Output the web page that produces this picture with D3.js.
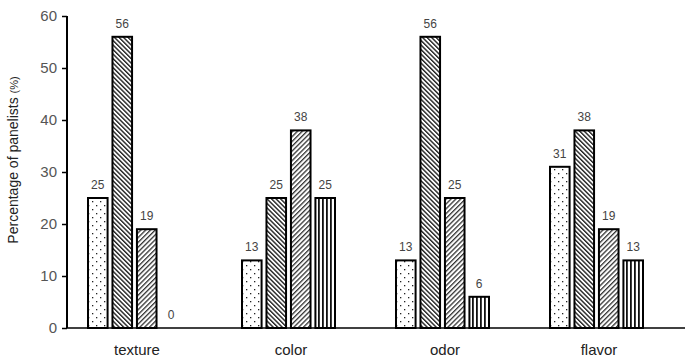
<!DOCTYPE html>
<html>
<head>
<meta charset="utf-8">
<script src="https://cdn.jsdelivr.net/npm/d3@7"></script>
<style>
  body { margin: 0; background: #fff; }
  svg { display: block; }
  .tick text { font-family: "Liberation Sans Narrow", "Liberation Sans", Arial, sans-serif; }
</style>
</head>
<body>
<div id="chart"></div>
<script>
var categories = ["texture", "color", "odor", "flavor"];
var seriesNames = ["s1", "s2", "s3", "s4"];
// one array per series, values per category
var s1 = [25, 13, 13, 31];
var s2 = [56, 25, 56, 38];
var s3 = [19, 38, 25, 19];
var s4 = [0, 25, 6, 13];
var yTicks = [0, 10, 20, 30, 40, 50, 60];

var allSeries = [s1, s2, s3, s4];
var patternIds = ["dots", "back", "fwd", "vert"];

var width = 694, height = 363;
var margin = {top: 16, right: 9, bottom: 35, left: 67};

var svg = d3.select("#chart").append("svg")
    .attr("width", width)
    .attr("height", height);

// patterns
var defs = svg.append("defs");

var pd = defs.append("pattern").attr("id", "dots")
    .attr("patternUnits", "userSpaceOnUse")
    .attr("width", 8).attr("height", 8);
pd.append("rect").attr("width", 8).attr("height", 8).attr("fill", "#fff");
pd.append("rect").attr("x", 1).attr("y", 1).attr("width", 1.3).attr("height", 1.3).attr("fill", "#222");
pd.append("rect").attr("x", 5).attr("y", 5).attr("width", 1.3).attr("height", 1.3).attr("fill", "#222");

var pb = defs.append("pattern").attr("id", "back")
    .attr("patternUnits", "userSpaceOnUse")
    .attr("width", 3.2).attr("height", 3.2)
    .attr("patternTransform", "rotate(-45)");
pb.append("rect").attr("width", 3.2).attr("height", 3.2).attr("fill", "#fff");
pb.append("rect").attr("width", 1.4).attr("height", 3.2).attr("fill", "#222");

var pf = defs.append("pattern").attr("id", "fwd")
    .attr("patternUnits", "userSpaceOnUse")
    .attr("width", 3.4).attr("height", 3.4)
    .attr("patternTransform", "rotate(45)");
pf.append("rect").attr("width", 3.4).attr("height", 3.4).attr("fill", "#fff");
pf.append("rect").attr("width", 1.3).attr("height", 3.4).attr("fill", "#333");

var pv = defs.append("pattern").attr("id", "vert")
    .attr("patternUnits", "userSpaceOnUse")
    .attr("width", 4).attr("height", 4);
pv.append("rect").attr("width", 4).attr("height", 4).attr("fill", "#fff");
pv.append("rect").attr("x", 1).attr("width", 1.8).attr("height", 4).attr("fill", "#111");

// scales
var x0 = d3.scaleBand()
    .domain(categories)
    .range([margin.left, margin.left + 616]);

var x1 = d3.scaleBand()
    .domain(seriesNames)
    .range([21, 114])
    .paddingInner(0.2);

var y = d3.scaleLinear()
    .domain([0, 60])
    .range([height - margin.bottom, margin.top]);

// bars
var groups = svg.selectAll("g.group")
    .data(categories)
    .enter().append("g")
    .attr("class", "group")
    .attr("transform", function(d) { return "translate(" + x0(d) + ",0)"; });

groups.each(function(cat, ci) {
  var g = d3.select(this);
  seriesNames.forEach(function(s, si) {
    var v = allSeries[si][ci];
    if (v > 0) {
      g.append("rect")
        .attr("x", x1(s))
        .attr("y", y(v))
        .attr("width", x1.bandwidth())
        .attr("height", y(0) - y(v))
        .attr("fill", "url(#" + patternIds[si] + ")")
        .attr("stroke", "#000")
        .attr("stroke-width", 2);
    }
    g.append("text")
      .attr("x", x1(s) + x1.bandwidth() / 2)
      .attr("y", y(v) - 9)
      .attr("text-anchor", "middle")
      .attr("font-family", "'Liberation Sans Narrow', 'Liberation Sans', Arial, sans-serif")
      .attr("font-size", 12)
      .attr("fill", "#444")
      .text(v);
  });
});

// y axis
var yAxis = svg.append("g")
    .attr("transform", "translate(" + margin.left + ",0)")
    .call(d3.axisLeft(y).tickValues(yTicks).tickSize(5).tickPadding(5));
yAxis.select(".domain").attr("stroke", "#000").attr("stroke-width", 2)
    .attr("d", "M0," + y(60) + "V" + y(0));
yAxis.selectAll(".tick line").attr("stroke", "#000").attr("stroke-width", 1.5);
yAxis.selectAll(".tick text").attr("font-size", 15).attr("fill", "#555");

// x axis line
svg.append("line")
    .attr("x1", margin.left).attr("x2", 685)
    .attr("y1", y(0)).attr("y2", y(0))
    .attr("stroke", "#000").attr("stroke-width", 1.5);

// category labels
svg.selectAll("text.cat")
    .data(categories)
    .enter().append("text")
    .attr("class", "cat")
    .attr("x", function(d) { return x0(d) + 70; })
    .attr("y", 355)
    .attr("text-anchor", "middle")
    .attr("font-family", "'Liberation Sans Narrow', 'Liberation Sans', Arial, sans-serif")
    .attr("font-size", 15)
    .attr("fill", "#222")
    .text(function(d) { return d; });

// y title
var title = svg.append("text")
    .attr("transform", "translate(18," + 160 + ") rotate(-90)")
    .attr("text-anchor", "middle")
    .attr("font-family", "'Liberation Sans Narrow', 'Liberation Sans', Arial, sans-serif")
    .attr("font-size", 14)
    .attr("fill", "#222");
title.append("tspan").text("Percentage of panelists ");
title.append("tspan").attr("font-size", 11).text("(%)");
</script>
</body>
</html>
